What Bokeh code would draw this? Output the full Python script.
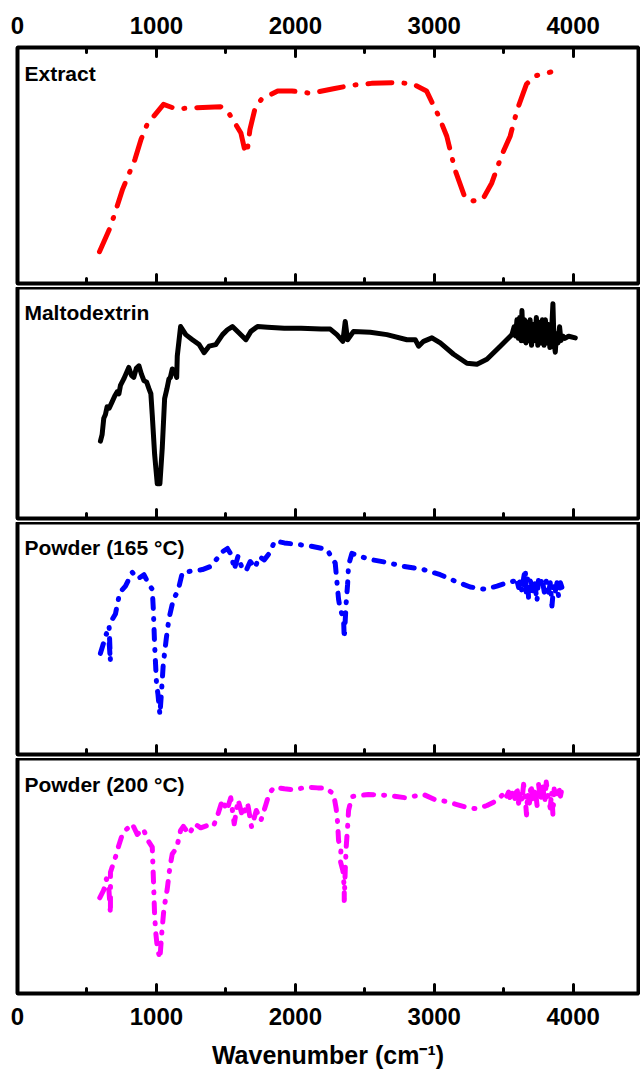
from bokeh.plotting import figure
from bokeh.layouts import column
from bokeh.models import (Range1d, LinearAxis, SingleIntervalTicker, Label,
                          CustomLabelingPolicy)
from bokeh.embed import file_html
from bokeh.resources import INLINE

# ---------------- data (relative transmittance 0..1 within each panel)
extract_x = [590, 669, 757, 845, 889, 933, 1051, 1139, 1286, 1462, 1520, 1608, 1638, 1652,
             1673, 1711, 1755, 1873, 1975, 2107, 2283, 2401, 2548, 2724, 2841, 2944, 3032,
             3090, 3149, 3222, 3281, 3349, 3414, 3487, 3546, 3598, 3663, 3722, 3839]
extract_y = [0.135, 0.24, 0.40, 0.525, 0.61, 0.674, 0.759, 0.74, 0.745, 0.749, 0.723, 0.638,
             0.56, 0.553, 0.652, 0.745, 0.78, 0.816, 0.816, 0.806, 0.826, 0.84, 0.848, 0.851,
             0.847, 0.816, 0.709, 0.624, 0.482, 0.362, 0.35, 0.357, 0.426, 0.546, 0.624,
             0.738, 0.844, 0.879, 0.896]

malto_x = [597, 609, 621, 633, 645, 660, 681, 700, 717, 730, 741, 765, 780, 801, 820, 837,
           855, 874, 892, 910, 930, 946, 960, 970, 987, 1006, 1025, 1042, 1059, 1075, 1090,
           1100, 1114, 1130, 1146, 1150, 1174, 1211, 1259, 1307, 1343, 1379, 1427, 1476,
           1511, 1547, 1595, 1644, 1680, 1728, 1800, 1920, 2041, 2185, 2251, 2299, 2342,
           2359, 2376, 2419, 2539, 2659, 2803, 2863, 2887, 2923, 2983, 3043, 3139, 3235,
           3307, 3379, 3475, 3559, 3575, 3585, 3595, 3605, 3615, 3625, 3631, 3640, 3650,
           3660, 3670, 3680, 3690, 3700, 3712, 3722, 3735, 3745, 3755, 3765, 3778, 3790,
           3800, 3812, 3822, 3832, 3845, 3854, 3862, 3871, 3880, 3890, 3902, 3912, 3925,
           3940, 3967, 4015]
malto_y = [0.335, 0.363, 0.434, 0.450, 0.484, 0.478, 0.505, 0.530, 0.548, 0.540, 0.576,
           0.604, 0.625, 0.654, 0.620, 0.611, 0.650, 0.661, 0.625, 0.597, 0.590, 0.562,
           0.540, 0.448, 0.278, 0.150, 0.150, 0.306, 0.519, 0.560, 0.604, 0.610, 0.647,
           0.640, 0.611, 0.703, 0.831, 0.796, 0.774, 0.753, 0.718, 0.746, 0.753, 0.796,
           0.817, 0.831, 0.803, 0.774, 0.810, 0.831, 0.828, 0.824, 0.824, 0.820, 0.820,
           0.796, 0.767, 0.853, 0.774, 0.810, 0.806, 0.796, 0.774, 0.774, 0.746, 0.767,
           0.782, 0.760, 0.711, 0.672, 0.668, 0.689, 0.746, 0.796, 0.830, 0.790, 0.860,
           0.780, 0.870, 0.770, 0.900, 0.770, 0.860, 0.760, 0.850, 0.770, 0.860, 0.750,
           0.840, 0.770, 0.870, 0.750, 0.850, 0.760, 0.860, 0.750, 0.860, 0.760, 0.840,
           0.740, 0.820, 0.930, 0.760, 0.720, 0.800, 0.760, 0.830, 0.770, 0.790, 0.780,
           0.789, 0.782]

p165_x = [597, 640, 659, 669, 659, 705, 736, 777, 826, 866, 910, 946, 970, 977, 982, 987,
          994, 1001, 1011, 1025, 1037, 1049, 1071, 1090, 1122, 1155, 1187, 1247, 1331, 1391,
          1439, 1475, 1511, 1540, 1560, 1588, 1612, 1644, 1675, 1709, 1740, 1776, 1812,
          1853, 1921, 1993, 2113, 2227, 2287, 2299, 2311, 2323, 2347, 2352, 2359, 2366,
          2376, 2383, 2407, 2527, 2647, 2779, 2923, 3043, 3151, 3259, 3367, 3451, 3523,
          3571, 3585, 3595, 3607, 3618, 3631, 3643, 3655, 3662, 3672, 3679, 3690, 3703,
          3712, 3722, 3739, 3750, 3763, 3775, 3792, 3805, 3823, 3835, 3847, 3860, 3871,
          3883, 3895, 3908, 3919, 3935, 3950]
p165_y = [0.436, 0.521, 0.489, 0.401, 0.559, 0.606, 0.698, 0.726, 0.785, 0.757, 0.775,
          0.733, 0.712, 0.634, 0.556, 0.472, 0.387, 0.302, 0.260, 0.172, 0.274, 0.387,
          0.500, 0.585, 0.669, 0.705, 0.785, 0.790, 0.797, 0.811, 0.846, 0.874, 0.888,
          0.860, 0.797, 0.856, 0.811, 0.790, 0.832, 0.804, 0.853, 0.839, 0.867, 0.921,
          0.912, 0.907, 0.898, 0.884, 0.825, 0.747, 0.669, 0.627, 0.585, 0.500, 0.578,
          0.655, 0.733, 0.816, 0.867, 0.842, 0.829, 0.811, 0.797, 0.775, 0.747, 0.722,
          0.712, 0.726, 0.740, 0.747, 0.735, 0.750, 0.720, 0.750, 0.700, 0.760, 0.800,
          0.700, 0.760, 0.670, 0.750, 0.730, 0.690, 0.750, 0.660, 0.750, 0.720, 0.760,
          0.700, 0.750, 0.700, 0.740, 0.640, 0.730, 0.700, 0.740, 0.680, 0.740, 0.720,
          0.730, 0.726]

p200_x = [592, 621, 640, 657, 669, 669, 705, 729, 760, 789, 826, 862, 905, 939, 970, 977,
          982, 987, 996, 1006, 1025, 1040, 1054, 1078, 1097, 1114, 1146, 1174, 1194, 1235,
          1276, 1319, 1367, 1410, 1444, 1475, 1507, 1535, 1560, 1588, 1620, 1656, 1685,
          1719, 1752, 1788, 1812, 1848, 1921, 1993, 2077, 2161, 2215, 2275, 2294, 2304,
          2311, 2328, 2323, 2342, 2352, 2352, 2359, 2366, 2376, 2383, 2407, 2527, 2671,
          2791, 2923, 3007, 3079, 3163, 3247, 3307, 3379, 3451, 3499, 3515, 3535, 3550,
          3566, 3580, 3595, 3607, 3620, 3631, 3643, 3655, 3664, 3672, 3685, 3696, 3710,
          3727, 3740, 3751, 3765, 3782, 3795, 3806, 3820, 3835, 3845, 3854, 3863, 3878,
          3895, 3908, 3919, 3935, 3955]
p200_y = [0.407, 0.441, 0.488, 0.452, 0.339, 0.516, 0.580, 0.630, 0.687, 0.701, 0.722,
          0.677, 0.701, 0.651, 0.623, 0.509, 0.424, 0.332, 0.254, 0.197, 0.148, 0.268,
          0.360, 0.445, 0.538, 0.594, 0.620, 0.694, 0.711, 0.677, 0.722, 0.705, 0.715,
          0.711, 0.765, 0.824, 0.779, 0.833, 0.722, 0.824, 0.753, 0.810, 0.708, 0.779,
          0.736, 0.804, 0.852, 0.878, 0.871, 0.867, 0.878, 0.875, 0.875, 0.850, 0.786,
          0.729, 0.651, 0.609, 0.566, 0.523, 0.452, 0.396, 0.523, 0.623, 0.708, 0.779,
          0.838, 0.847, 0.843, 0.833, 0.847, 0.824, 0.818, 0.804, 0.790, 0.786, 0.800,
          0.821, 0.850, 0.830, 0.857, 0.820, 0.870, 0.830, 0.880, 0.810, 0.860, 0.820,
          0.890, 0.830, 0.760, 0.850, 0.810, 0.890, 0.820, 0.870, 0.800, 0.890, 0.820,
          0.880, 0.810, 0.900, 0.830, 0.790, 0.860, 0.760, 0.870, 0.830, 0.880, 0.840,
          0.870, 0.860, 0.870]

panel_names = ["Extract", "Maltodextrin", "Powder (165 \u00b0C)", "Powder (200 \u00b0C)"]
panel_colors = ["#ff0000", "#000000", "#0000ff", "#ff00ff"]
tick_interval = 1000
x_label = "Wavenumber (cm\u207b\u00b9)"

FONT = "Liberation Sans"
X_MAX = 4470
W = 640


def make_axis(show_labels):
    ax = LinearAxis(
        ticker=SingleIntervalTicker(interval=tick_interval, num_minor_ticks=2),
        axis_line_color=None,
        major_tick_in=9, major_tick_out=0,
        minor_tick_in=5, minor_tick_out=0,
        major_tick_line_width=3, minor_tick_line_width=3,
        major_tick_line_color="black", minor_tick_line_color="black",
        major_tick_line_cap="round", minor_tick_line_cap="round",
    )
    if show_labels:
        ax.major_label_text_font = FONT
        ax.major_label_text_font_style = "bold"
        ax.major_label_text_font_size = "24px"
        ax.major_label_text_color = "black"
    else:
        ax.major_label_text_font_size = "1px"
        ax.major_label_standoff = 0
        ax.major_label_policy = CustomLabelingPolicy(code="return new Set()")
    return ax


def make_panel(height, name, xs, ys, color, dash, top=0, bottom=0, top_axis=False, bottom_labels=False):
    p = figure(width=W, height=height, x_range=Range1d(0, X_MAX), y_range=Range1d(0, 1),
               output_backend="svg", toolbar_location=None,
               x_axis_location=None, y_axis_location=None,
               min_border_left=17, min_border_right=2,
               min_border_top=top, min_border_bottom=bottom)
    p.grid.visible = False
    p.outline_line_color = "black"
    p.outline_line_width = 4
    p.background_fill_color = "white"
    p.border_fill_color = "white"

    bax = make_axis(bottom_labels)
    if bottom_labels:
        bax.major_label_standoff = 14
        bax.axis_label = x_label
        bax.axis_label_text_font = FONT
        bax.axis_label_text_font_style = "bold"
        bax.axis_label_text_font_size = "25px"
        bax.axis_label_text_color = "black"
        bax.axis_label_standoff = 13
    p.add_layout(bax, "below")
    if top_axis:
        tax = make_axis(True)
        tax.major_label_standoff = 14
        p.add_layout(tax, "above")

    p.line(xs, ys, line_color=color, line_width=5, line_dash=dash,
           line_cap="round", line_join="round")
    p.add_layout(Label(x=50, y=0.94, text=name, text_baseline="top", text_align="left",
                       text_font=FONT, text_font_style="bold", text_font_size="21px",
                       text_color="black"))
    return p


p1 = make_panel(287, panel_names[0], extract_x, extract_y, panel_colors[0], "24 12 1 12",
                top=47, top_axis=True)
p2 = make_panel(235, panel_names[1], malto_x, malto_y, panel_colors[1], "solid")
p3 = make_panel(236, panel_names[2], p165_x, p165_y, panel_colors[2], "10 10 1 10")
p4 = make_panel(313, panel_names[3], p200_x, p200_y, panel_colors[3], "10 10 1 10",
                bottom=78, bottom_labels=True)

layout = column(p1, p2, p3, p4, spacing=0)
open("out.html", "w").write(file_html(layout, INLINE))
